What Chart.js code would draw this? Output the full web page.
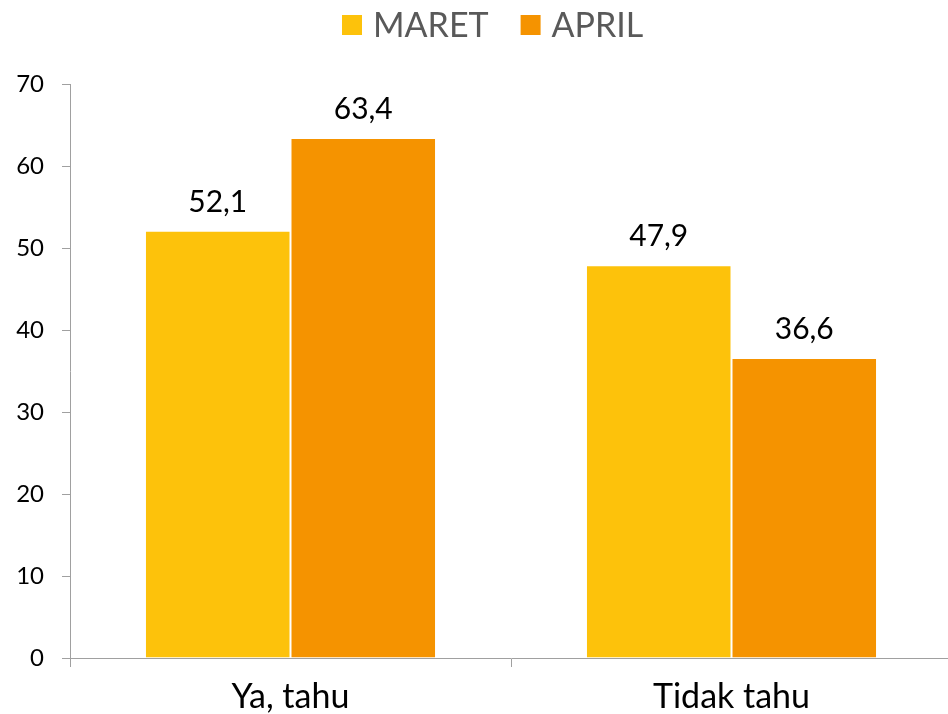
<!DOCTYPE html>
<html>
<head>
<meta charset="utf-8">
<script src="https://cdn.jsdelivr.net/npm/chart.js@4.4.1/dist/chart.umd.min.js"></script>
<style>
    html, body { margin: 0; padding: 0; overflow: hidden; background: #fff; }
    #wrap { width: 952px; height: 714px; }
</style>
</head>
<body>
<div id="wrap"><canvas id="chart"></canvas></div>
<script>
const categories = ['Ya, tahu', 'Tidak tahu'];
const seriesNames = ['MARET', 'APRIL'];
const maretValues = [52.1, 47.9];
const aprilValues = [63.4, 36.6];
const yTicks = [0, 10, 20, 30, 40, 50, 60, 70];

const colors = ['#FDC20B', '#F59300'];
const fontFamily = "Lato, 'Open Sans', sans-serif";
const axisColor = '#A0A0A0';

// value above every bar, comma as decimal separator
const valueLabels = {
    id: 'valueLabels',
    afterDatasetsDraw(chart) {
        const ctx = chart.ctx;
        ctx.save();
        ctx.font = `30px ${fontFamily}`;
        ctx.fillStyle = '#000';
        ctx.textAlign = 'center';
        ctx.textBaseline = 'alphabetic';
        chart.data.datasets.forEach((ds, i) => {
            chart.getDatasetMeta(i).data.forEach((bar, j) => {
                ctx.fillText(ds.data[j].toFixed(1).replace('.', ','), bar.x, bar.y - 19);
            });
        });
        ctx.restore();
    }
};

// legend drawn by hand so box/text spacing matches
const topLegend = {
    id: 'topLegend',
    afterDraw(chart) {
        const ctx = chart.ctx;
        ctx.save();
        ctx.font = `34px ${fontFamily}`;
        ctx.textBaseline = 'middle';
        ctx.textAlign = 'left';
        let x = 342;
        chart.data.datasets.forEach(ds => {
            ctx.fillStyle = ds.backgroundColor;
            ctx.fillRect(x, 15, 20, 20);
            ctx.fillStyle = '#595959';
            ctx.fillText(ds.label, x + 31, 26);
            x += 31 + ctx.measureText(ds.label).width + 32;
        });
        ctx.restore();
    }
};

const ctx = document.getElementById('chart').getContext('2d');
new Chart(ctx, {
    type: 'bar',
    data: {
        labels: categories,
        datasets: [
            { label: seriesNames[0], data: maretValues, backgroundColor: colors[0] },
            { label: seriesNames[1], data: aprilValues, backgroundColor: colors[1] }
        ]
    },
    options: {
        responsive: true,
        maintainAspectRatio: false,
        animation: false,
        devicePixelRatio: 1,
        layout: { padding: { top: 84, left: 0, right: 0, bottom: 0 } },
        datasets: {
            bar: {
                categoryPercentage: 0.66,
                barPercentage: 1,
                borderWidth: 1,
                borderColor: '#fff'
            }
        },
        plugins: {
            legend: { display: false },
            tooltip: { enabled: false }
        },
        scales: {
            x: {
                offset: true,
                grid: { offset: true, drawOnChartArea: false, color: axisColor, tickLength: 9 },
                border: { color: axisColor },
                ticks: { color: '#000', font: { family: fontFamily, size: 34 }, padding: 10 },
                afterFit: scale => { scale.height = 56; }
            },
            y: {
                min: yTicks[0],
                max: yTicks[yTicks.length - 1],
                grid: { drawOnChartArea: false, color: axisColor, tickLength: 8 },
                border: { color: axisColor },
                ticks: { color: '#000', font: { family: fontFamily, size: 24 }, padding: 18 },
                afterBuildTicks: scale => { scale.ticks = yTicks.map(v => ({ value: v })); },
                afterFit: scale => { scale.width = 70; }
            }
        }
    },
    plugins: [valueLabels, topLegend]
});
</script>
</body>
</html>
